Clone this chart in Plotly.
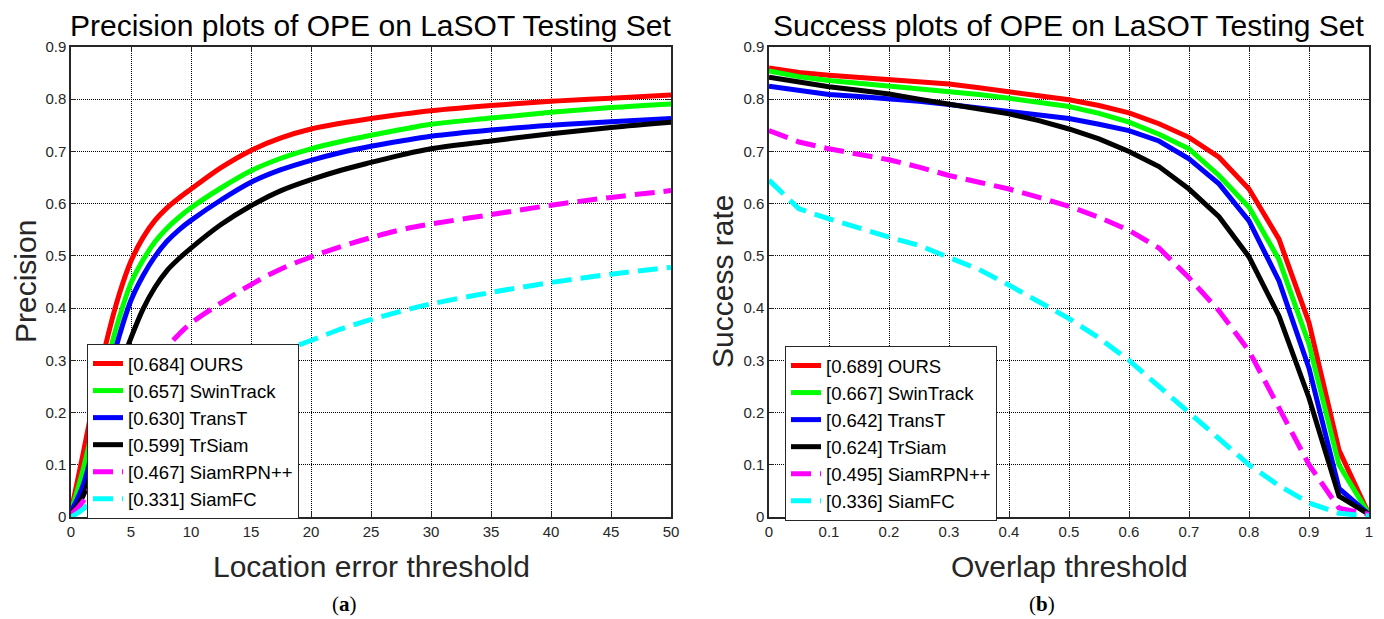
import plotly.graph_objects as go

# ---------------- data ----------------
names = ["OURS", "SwinTrack", "TransT", "TrSiam", "SiamRPN++", "SiamFC"]
colors = ["#FF0000", "#00FF00", "#0000FF", "#000000", "#FF00FF", "#00FFFF"]
dashed = [False, False, False, False, True, True]

prec_scores = ["0.684", "0.657", "0.630", "0.599", "0.467", "0.331"]
succ_scores = ["0.689", "0.667", "0.642", "0.624", "0.495", "0.336"]

x_prec = [0, 1, 2, 3, 4, 5, 6, 7, 8, 9, 10, 12.5, 15, 17.5, 20, 22.5, 25, 27.5, 30, 35, 40, 45, 50]
prec_ours = [0.01, 0.12, 0.235, 0.34, 0.425, 0.49, 0.535, 0.568, 0.592, 0.611, 0.628, 0.669, 0.702, 0.726, 0.743, 0.754, 0.763, 0.771, 0.778, 0.788, 0.796, 0.802, 0.808]
prec_swin = [0.01, 0.09, 0.19, 0.295, 0.38, 0.448, 0.492, 0.527, 0.553, 0.574, 0.592, 0.630, 0.663, 0.687, 0.705, 0.719, 0.731, 0.742, 0.752, 0.764, 0.775, 0.784, 0.791]
prec_transt = [0.01, 0.06, 0.15, 0.258, 0.345, 0.415, 0.462, 0.499, 0.528, 0.550, 0.568, 0.607, 0.641, 0.665, 0.683, 0.698, 0.710, 0.720, 0.729, 0.741, 0.750, 0.757, 0.763]
prec_trsiam = [0.005, 0.04, 0.11, 0.20, 0.28, 0.343, 0.398, 0.44, 0.472, 0.495, 0.515, 0.560, 0.596, 0.625, 0.646, 0.664, 0.679, 0.693, 0.705, 0.720, 0.734, 0.746, 0.756]
prec_rpn = [0.005, 0.03, 0.08, 0.13, 0.18, 0.22, 0.258, 0.293, 0.325, 0.35, 0.371, 0.41, 0.445, 0.475, 0.498, 0.518, 0.535, 0.55, 0.561, 0.579, 0.597, 0.612, 0.625]
prec_fc = [0.0, 0.015, 0.04, 0.065, 0.09, 0.115, 0.14, 0.163, 0.185, 0.205, 0.225, 0.262, 0.292, 0.317, 0.338, 0.36, 0.378, 0.394, 0.408, 0.43, 0.449, 0.465, 0.478]

x_succ = [0.0, 0.05, 0.1, 0.15, 0.2, 0.25, 0.3, 0.35, 0.4, 0.45, 0.5, 0.55, 0.6, 0.65, 0.7, 0.75, 0.8, 0.85, 0.9, 0.95, 1.0]
succ_ours = [0.860, 0.851, 0.846, 0.842, 0.839, 0.834, 0.829, 0.822, 0.815, 0.807, 0.799, 0.788, 0.774, 0.753, 0.727, 0.689, 0.628, 0.532, 0.372, 0.128, 0.005]
succ_swin = [0.854, 0.843, 0.836, 0.831, 0.826, 0.821, 0.816, 0.809, 0.802, 0.795, 0.786, 0.773, 0.756, 0.733, 0.705, 0.654, 0.593, 0.493, 0.331, 0.100, 0.005]
succ_transt = [0.825, 0.816, 0.809, 0.805, 0.801, 0.796, 0.790, 0.783, 0.775, 0.769, 0.763, 0.752, 0.740, 0.720, 0.686, 0.638, 0.567, 0.452, 0.285, 0.055, 0.005]
succ_trsiam = [0.842, 0.832, 0.824, 0.817, 0.810, 0.800, 0.791, 0.782, 0.772, 0.759, 0.743, 0.724, 0.700, 0.671, 0.628, 0.575, 0.498, 0.385, 0.228, 0.040, 0.005]
succ_rpn = [0.740, 0.718, 0.705, 0.695, 0.684, 0.670, 0.654, 0.641, 0.628, 0.612, 0.595, 0.574, 0.549, 0.515, 0.458, 0.395, 0.318, 0.209, 0.100, 0.017, 0.005]
succ_fc = [0.645, 0.590, 0.571, 0.553, 0.536, 0.520, 0.498, 0.474, 0.444, 0.413, 0.380, 0.343, 0.300, 0.250, 0.200, 0.148, 0.100, 0.060, 0.027, 0.007, 0.002]

prec_series = [prec_ours, prec_swin, prec_transt, prec_trsiam, prec_rpn, prec_fc]
succ_series = [succ_ours, succ_swin, succ_transt, succ_trsiam, succ_rpn, succ_fc]

# ---------------- figure ----------------
# the page body has an 8px margin; the figure fills the window from there
# and all layout positions below are page pixels shifted by 8px
OFF = 8
W, H = 1384 - OFF, 619 - OFF
FONT = "Liberation Sans, Arial, Helvetica, sans-serif"
AXC = "#262626"
DASH = "20px,9px"

fig = go.Figure()

for i in range(6):
    fig.add_trace(go.Scatter(
        x=x_prec, y=prec_series[i], mode="lines",
        line=dict(color=colors[i], width=5, dash=DASH if dashed[i] else "solid",
                  shape="spline", smoothing=1.0),
        name="[%s] %s" % (prec_scores[i], names[i]),
        xaxis="x", yaxis="y", legend="legend"))
for i in range(6):
    fig.add_trace(go.Scatter(
        x=x_succ, y=succ_series[i], mode="lines",
        line=dict(color=colors[i], width=5, dash=DASH if dashed[i] else "solid"),
        name="[%s] %s" % (succ_scores[i], names[i]),
        xaxis="x2", yaxis="y2", legend="legend2"))

def px_x(p):
    return (p - OFF) / W

def px_y(p):
    return 1 - (p - OFF) / H

L0, L1 = 71, 671
R0, R1 = 769, 1369
T, B = 47, 517

axis_common = dict(
    showline=True, linecolor=AXC, linewidth=1.5, mirror="ticks",
    ticks="inside", ticklen=5, tickcolor=AXC, tickwidth=1,
    showgrid=True, gridcolor="#000000", griddash="1px,1px", gridwidth=1,
    zeroline=False, automargin=False,
    tickfont=dict(family=FONT, size=15, color=AXC),
)

legend_common = dict(
    xanchor="left", yanchor="top",
    bgcolor="white", bordercolor=AXC, borderwidth=1,
    font=dict(family=FONT, size=18.5, color="#000000"),
    tracegroupgap=0, itemwidth=30,
)

fig.update_layout(
    width=W, height=H,
    margin=dict(l=0, r=0, t=0, b=0, autoexpand=False),
    paper_bgcolor="white", plot_bgcolor="white",
    xaxis=dict(domain=[px_x(L0), px_x(L1)], range=[0, 50], dtick=5, anchor="y", **axis_common),
    yaxis=dict(domain=[px_y(B), px_y(T)], range=[0, 0.9], dtick=0.1, anchor="x", **axis_common),
    xaxis2=dict(domain=[px_x(R0), px_x(R1)], range=[0, 1], dtick=0.1, anchor="y2", **axis_common),
    yaxis2=dict(domain=[px_y(B), px_y(T)], range=[0, 0.9], dtick=0.1, anchor="x2", **axis_common),
    legend=dict(x=px_x(87), y=px_y(344), **legend_common),
    legend2=dict(x=px_x(785), y=px_y(346), **legend_common),
    showlegend=True,
)

ann = []
def text(x, y, s, size, color="#000000", angle=0, family=FONT):
    ann.append(dict(x=px_x(x), y=px_y(y), xref="paper", yref="paper", text=s,
                    showarrow=False, xanchor="center", yanchor="middle",
                    textangle=angle, font=dict(family=family, size=size, color=color)))

text((L0 + L1) / 2, 25, "Precision plots of OPE on LaSOT Testing Set", 30)
text((R0 + R1) / 2, 25, "Success plots of OPE on LaSOT Testing Set", 30)
text((L0 + L1) / 2, 566, "Location error threshold", 30, AXC)
text((R0 + R1) / 2, 566, "Overlap threshold", 30, AXC)
text(26, 282, "Precision", 30, AXC, -90)
text(723, 282, "Success rate", 30, AXC, -90)
text(344, 604, "(<b>a</b>)", 21, "#000000", 0, "Liberation Serif, Times New Roman, serif")
text(1042, 604, "(<b>b</b>)", 21, "#000000", 0, "Liberation Serif, Times New Roman, serif")
fig.update_layout(annotations=ann)

fig.write_html("out.html")
